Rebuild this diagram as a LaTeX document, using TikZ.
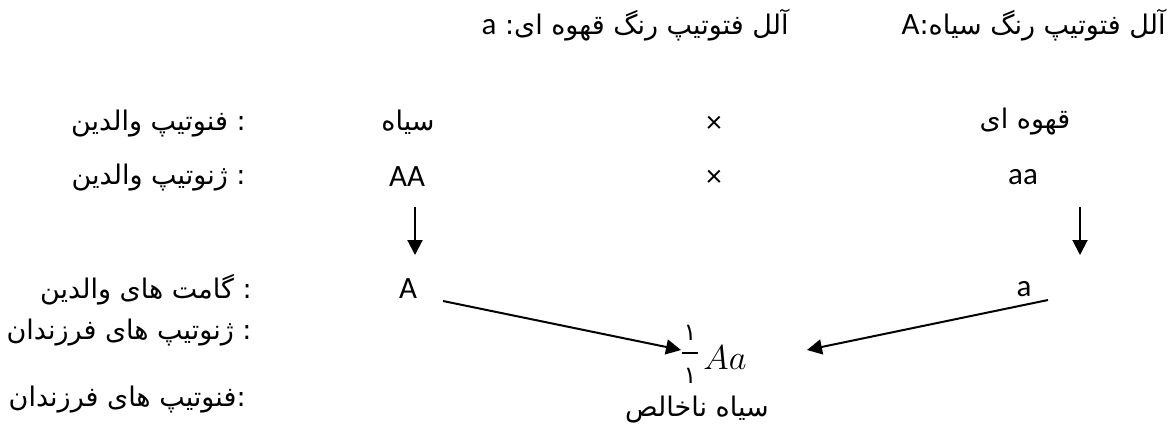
\documentclass[tikz,border=0pt]{standalone}
\usepackage{fontspec}
\usetikzlibrary{arrows.meta}
\TeXXeTstate=1
\setmainfont{Carlito}
\newfontfamily\arabicfont[Script=Arabic]{DejaVu Sans}
\newcommand{\lt}[1]{{\fontsize{15.5}{18}\rmfamily #1}}
\tikzset{
  lat/.style={font=\fontsize{15.5}{18}\selectfont, inner sep=0pt},
  ar/.style={font=\fontsize{13.5}{16}\arabicfont, inner sep=0pt},
  lbl/.style={ar, anchor=east},
  arr/.style={line width=1pt, -{Triangle[length=7.5pt,width=7.5pt]}},
}
\begin{document}
\begin{tikzpicture}[x=0.5pt,y=-0.5pt]
\useasboundingbox (0,0) rectangle (1173,441);
% top line
\node[ar, anchor=east] (t1) at (1166,25) {\lt{A}:\beginR آلل فتوتیپ رنگ سیاه\endR};
\node[ar, anchor=east] (t2) at (789,25) {\lt{a} :\beginR آلل فتوتیپ رنگ قهوه ای\endR};
% labels (colon at the visual right)
\node[lbl] (l1) at (246,124) {\beginR فنوتیپ والدین\endR\ :};
\node[lbl] (l2) at (246,178) {\beginR ژنوتیپ والدین\endR\ :};
\node[lbl] (l3) at (252,290) {\beginR گامت های والدین\endR\ :};
\node[lbl] (l4) at (252,333) {\beginR ژنوتیپ های فرزندان\endR\ :};
\node[lbl] (l5) at (246,400) {\beginR فنوتیپ های فرزندان\endR:};
% row 1
\node[ar] (p1) at (408,122) {\beginR سیاه\endR};
\node[lat] (x1) at (714,124) {×};
\node[ar] (p2) at (1025,122) {\beginR قهوه ای\endR};
% row 2
\node[lat] (g1) at (407,177) {AA};
\node[lat] (x2) at (714,178) {×};
\node[lat] (g2) at (1023,177) {aa};
% gametes
\node[lat] (ga) at (408,289) {A};
\node[lat] (gb) at (1024,289) {a};
\coordinate (d1s) at (415,207);
\coordinate (d1e) at (415,255);
\coordinate (d2s) at (1080,207);
\coordinate (d2e) at (1080,255);
\draw[arr] (d1s) -- (d1e);
\draw[arr] (d2s) -- (d2e);
% offspring
\node[inner sep=0pt] (fr) at (690,354) {\arabicfont\fontsize{12}{12}\selectfont
  \vbox{\hbox to 8pt{\hss ١\hss}\kern6pt\hrule width 8pt height 1pt\kern7pt\hbox to 8pt{\hss ١\hss}}};
\node[inner sep=0pt, anchor=base west, font=\fontsize{17}{20}\selectfont] (off) at (703,369) {$Aa$};
\node[ar] (ph) at (697,410) {\beginR سیاه ناخالص\endR};
\coordinate (as) at (443,301);
\coordinate (ae) at (681,350);
\coordinate (bs) at (1048,300);
\coordinate (be) at (807,350);
\draw[arr] (as) -- (ae);
\draw[arr] (bs) -- (be);
\end{tikzpicture}
\end{document}
